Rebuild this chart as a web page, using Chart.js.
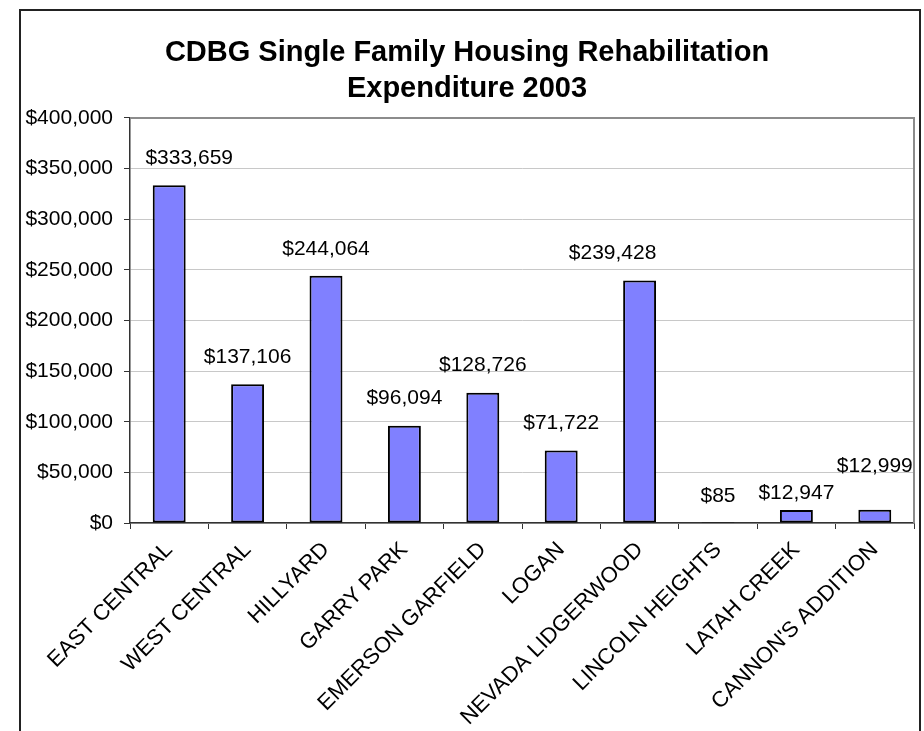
<!DOCTYPE html>
<html>
<head>
<meta charset="utf-8">
<script src="https://cdn.jsdelivr.net/npm/chart.js@4/dist/chart.umd.min.js"></script>
<style>
  html, body { margin: 0; padding: 0; background: #ffffff; }
  canvas { display: block; }
</style>
</head>
<body>
<canvas id="c" width="924" height="731"></canvas>
<script>
const titleLines = ['CDBG Single Family Housing Rehabilitation', 'Expenditure 2003'];
const categories = ['EAST CENTRAL', 'WEST CENTRAL', 'HILLYARD', 'GARRY PARK', 'EMERSON GARFIELD', 'LOGAN', 'NEVADA LIDGERWOOD', 'LINCOLN HEIGHTS', 'LATAH CREEK', "CANNON'S ADDITION"];
const expenditure = [333659, 137106, 244064, 96094, 128726, 71722, 239428, 85, 12947, 12999];
const yTickValues = [0, 50000, 100000, 150000, 200000, 250000, 300000, 350000, 400000];

const FONT = "'Liberation Sans', Arial, sans-serif";
const fmt = v => '$' + Number(v).toLocaleString('en-US');

const frame = {
  id: 'frame',
  afterDraw(chart) {
    const ctx = chart.ctx, a = chart.chartArea;
    ctx.save();
    ctx.strokeStyle = '#8c8c8c';
    ctx.lineWidth = 2;
    ctx.beginPath();
    ctx.moveTo(a.left, a.top);
    ctx.lineTo(a.right, a.top);
    ctx.lineTo(a.right, a.bottom);
    ctx.stroke();
    ctx.strokeStyle = '#222';
    ctx.lineWidth = 2;
    ctx.strokeRect(20, 10, 900, 800);
    ctx.restore();
  }
};

const barLabels = {
  id: 'barLabels',
  afterDatasetsDraw(chart, args, opts) {
    const ctx = chart.ctx;
    const meta = chart.getDatasetMeta(0);
    ctx.save();
    ctx.font = opts.font;
    ctx.fillStyle = '#000';
    ctx.textAlign = 'center';
    ctx.textBaseline = 'middle';
    meta.data.forEach((bar, i) => {
      const s = opts.shifts[i] || [0, 0];
      ctx.fillText(fmt(chart.data.datasets[0].data[i]), bar.x + s[0], bar.y - opts.gap + s[1]);
    });
    ctx.restore();
  }
};

new Chart(document.getElementById('c'), {
  type: 'bar',
  data: {
    labels: categories,
    datasets: [{
      data: expenditure,
      backgroundColor: '#8080ff',
      borderColor: '#000000',
      borderWidth: 2,
      borderSkipped: false,
      categoryPercentage: 1,
      barPercentage: 0.42
    }]
  },
  plugins: [frame, barLabels],
  options: {
    responsive: false,
    animation: false,
    devicePixelRatio: 1,
    layout: { padding: { left: 20, right: 10, top: 0, bottom: 0 } },
    plugins: {
      legend: { display: false },
      tooltip: { enabled: false },
      title: {
        display: true,
        text: titleLines,
        color: '#000',
        font: { family: FONT, size: 29, weight: 'bold', lineHeight: 1.241 },
        padding: { top: 35, bottom: 11 }
      },
      barLabels: {
        font: "21px " + FONT,
        gap: 27,
        shifts: { 0: [20, 0], 6: [-27, 0], 8: [0, 10], 9: [0, -17] }
      }
    },
    scales: {
      x: {
        afterFit(scale) { scale.height = 208; },
        grid: {
          display: true,
          drawOnChartArea: false,
          drawTicks: true,
          tickLength: 6,
          color: '#333',
          offset: true
        },
        border: { display: true, color: '#333', width: 1.5 },
        ticks: {
          color: '#000',
          font: { family: FONT, size: 22 },
          minRotation: 45,
          maxRotation: 45,
          autoSkip: false,
          padding: 8
        }
      },
      y: {
        min: 0,
        max: 400000,
        afterFit(scale) { scale.width = 110; },
        afterBuildTicks(scale) { scale.ticks = yTickValues.map(v => ({ value: v })); },
        grid: {
          color: '#c8c8c8',
          lineWidth: 1,
          tickColor: '#333',
          tickLength: 6,
          drawTicks: true
        },
        border: { display: true, color: '#333', width: 1.5 },
        ticks: {
          color: '#000',
          font: { family: FONT, size: 21 },
          padding: 11,
          callback: v => fmt(v)
        }
      }
    }
  }
});
</script>
</body>
</html>
